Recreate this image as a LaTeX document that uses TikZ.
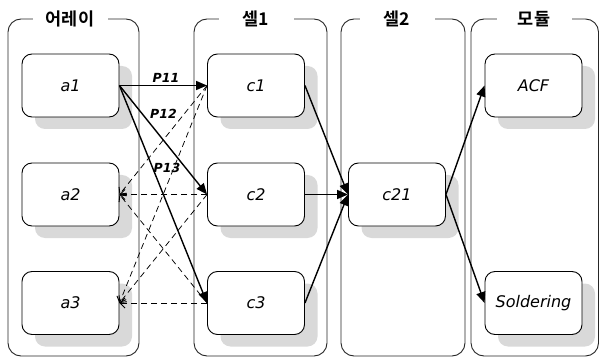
\documentclass[tikz,border=0pt]{standalone}
\usepackage{fontspec}
\setmainfont{DejaVu Sans}
\newfontfamily\krfont{Noto Sans CJK KR}[BoldFont={Noto Sans CJK KR Bold}]
\newfontfamily\nodefont{DejaVu Sans}
\usetikzlibrary{arrows.meta,shadows}
\definecolor{shadowgray}{RGB}{217,217,217}
\begin{document}
\begin{tikzpicture}[x=1pt,y=-1pt,
  lane/.style={draw=black!85, line width=0.9pt, rounded corners=13pt},
  lanetitle/.style={fill=white, minimum width=75pt, inner ysep=2pt,
    font=\krfont\bfseries\fontsize{17.5}{20}\selectfont},
  box/.style={draw, line width=0.9pt, rounded corners=10pt, fill=white,
    minimum width=97pt, minimum height=63pt,
    font=\nodefont\itshape\fontsize{16}{19}\selectfont,
    drop shadow={shadow xshift=13pt, shadow yshift=-12pt, fill=shadowgray, opacity=1}},
  solidarrow/.style={line width=1.4pt, -{Triangle[length=11pt,width=9pt]}},
  dasharrow/.style={line width=0.75pt, dash pattern=on 6pt off 4pt,
    -{Straight Barb[length=5pt,width=10pt,line width=0.9pt]}},
  plabel/.style={inner sep=1pt, font=\nodefont\bfseries\itshape\fontsize{12.5}{14}\selectfont}
]
\useasboundingbox (0,0) rectangle (599,358);
% lanes
\draw[lane] (8,19) rectangle (139,356);
\draw[lane] (194,19) rectangle (327,356);
\draw[lane] (341,19) rectangle (465,356);
\draw[lane] (471,19) rectangle (598.5,356);
\node[lanetitle] (t1) at (70,19) {어레이};
\node[lanetitle] (t2) at (256,19) {셀1};
\node[lanetitle] (t3) at (397,19) {셀2};
\node[lanetitle] (t4) at (534,19) {모듈};
% nodes
\node[box] (a1) at (70.5,85.5) {a1};
\node[box] (a2) at (70.5,194.5) {a2};
\node[box] (a3) at (70.5,303) {a3};
\node[box] (c1) at (256,85.5) {c1};
\node[box] (c2) at (256,194.5) {c2};
\node[box] (c3) at (256,303) {c3};
\node[box] (c21) at (397,194.5) {c21};
\node[box] (acf) at (533.5,85.5) {ACF};
\node[box] (sold) at (533.5,303) {Soldering};
% dashed connectors
\foreach \s in {c1,c2,c3}{
  \draw[dasharrow] (\s.west) -- (a2.east);
  \draw[dasharrow] (\s.west) -- (a3.east);
}
% solid connectors
\draw[solidarrow] (a1.east) -- (c1.west);
\draw[solidarrow] (a1.east) -- (c2.west);
\draw[solidarrow] (a1.east) -- (c3.west);
\draw[solidarrow] (c1.east) -- (c21.west);
\draw[solidarrow] (c2.east) -- (c21.west);
\draw[solidarrow] (c3.east) -- (c21.west);
\draw[solidarrow] (c21.east) -- (acf.west);
\draw[solidarrow] (c21.east) -- (sold.west);
% labels
\node[plabel] (p11) at (166,78) {P11};
\node[plabel] (p12) at (163.5,113.5) {P12};
\node[plabel] (p13) at (167,167.5) {P13};
\end{tikzpicture}
\end{document}
